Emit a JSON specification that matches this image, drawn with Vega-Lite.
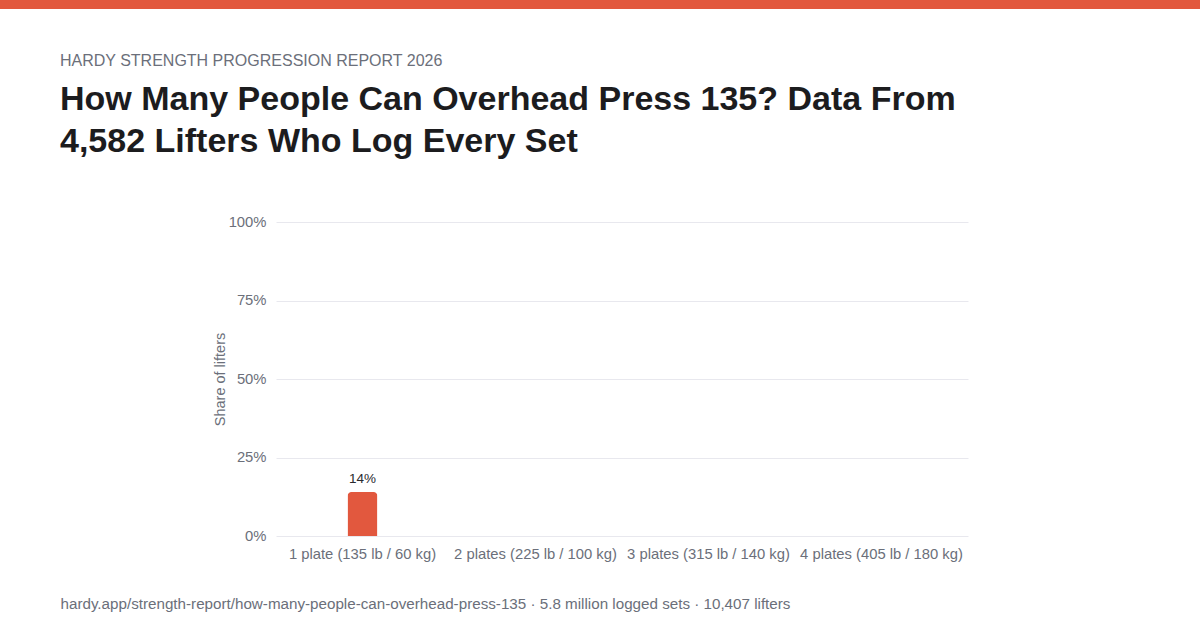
{
  "$schema": "https://vega.github.io/schema/vega-lite/v6.json",
  "background": "#ffffff",
  "padding": 0,
  "bounds": "flush",
  "spacing": 213,
  "config": {
    "font": "Liberation Sans",
    "view": {"stroke": null}
  },
  "vconcat": [
    {
      "width": 1200,
      "height": 9,
      "view": {"fill": "#E2583E", "stroke": null},
      "data": {"values": []},
      "mark": "rule",
      "encoding": {}
    },
    {
      "bounds": "flush",
      "spacing": 0,
      "hconcat": [
        {
          "width": 276,
          "height": 10,
          "data": {"values": []},
          "mark": "rule",
          "encoding": {}
        },
        {
          "width": 692,
          "height": 314,
          "title": {
            "text": "HARDY STRENGTH PROGRESSION REPORT 2026",
            "subtitle": ["How Many People Can Overhead Press 135? Data From", "4,582 Lifters Who Log Every Set"],
            "anchor": "start",
            "frame": "group",
            "dx": -216,
            "offset": 55,
            "font": "Liberation Sans",
            "fontSize": 16,
            "fontWeight": "normal",
            "color": "#6b6f7a",
            "subtitleFont": "Liberation Sans",
            "subtitleFontSize": 34,
            "subtitleFontWeight": "bold",
            "subtitleColor": "#1c1c1e",
            "subtitleLineHeight": 42,
            "subtitlePadding": 14
          },
          "data": {
            "values": [
              {"level": "1 plate (135 lb / 60 kg)", "share": 0.14},
              {"level": "2 plates (225 lb / 100 kg)", "share": 0},
              {"level": "3 plates (315 lb / 140 kg)", "share": 0},
              {"level": "4 plates (405 lb / 180 kg)", "share": 0}
            ]
          },
          "encoding": {
            "x": {
              "field": "level",
              "type": "nominal",
              "sort": null,
              "scale": {"paddingInner": 0, "paddingOuter": 0},
              "title": "hardy.app/strength-report/how-many-people-can-overhead-press-135 · 5.8 million logged sets · 10,407 lifters",
              "axis": {
                "labelAngle": 0,
                "labelFontSize": 14.8,
                "labelColor": "#6b6f7a",
                "labelPadding": 10,
                "ticks": false,
                "domain": false,
                "grid": false,
                "titleX": -216,
                "titleY": 72,
                "titleAlign": "left",
                "titleBaseline": "alphabetic",
                "titleFontSize": 15.2,
                "titleFontWeight": "normal",
                "titleColor": "#6b6f7a"
              }
            }
          },
          "layer": [
            {
              "mark": {
                "type": "bar",
                "width": 30,
                "color": "#E2583E",
                "cornerRadiusTopLeft": 4,
                "cornerRadiusTopRight": 4
              },
              "encoding": {
                "y": {
                  "field": "share",
                  "type": "quantitative",
                  "scale": {"domain": [0, 1]},
                  "title": "Share of lifters",
                  "axis": {
                    "values": [0, 0.25, 0.5, 0.75, 1],
                    "format": ".0%",
                    "grid": true,
                    "gridColor": "#e8e8ee",
                    "domain": false,
                    "ticks": false,
                    "labelFontSize": 14.8,
                    "labelColor": "#6b6f7a",
                    "labelPadding": 10,
                    "titleFontSize": 14.5,
                    "titleFontWeight": "normal",
                    "titleColor": "#6b6f7a",
                    "titlePadding": 1
                  }
                }
              }
            },
            {
              "transform": [{"filter": "datum.share > 0"}],
              "mark": {
                "type": "text",
                "baseline": "bottom",
                "dy": -6,
                "fontSize": 13.5,
                "color": "#2a2a2e"
              },
              "encoding": {
                "y": {"field": "share", "type": "quantitative"},
                "text": {"field": "share", "type": "quantitative", "format": ".0%"}
              }
            }
          ]
        }
      ]
    }
  ]
}
